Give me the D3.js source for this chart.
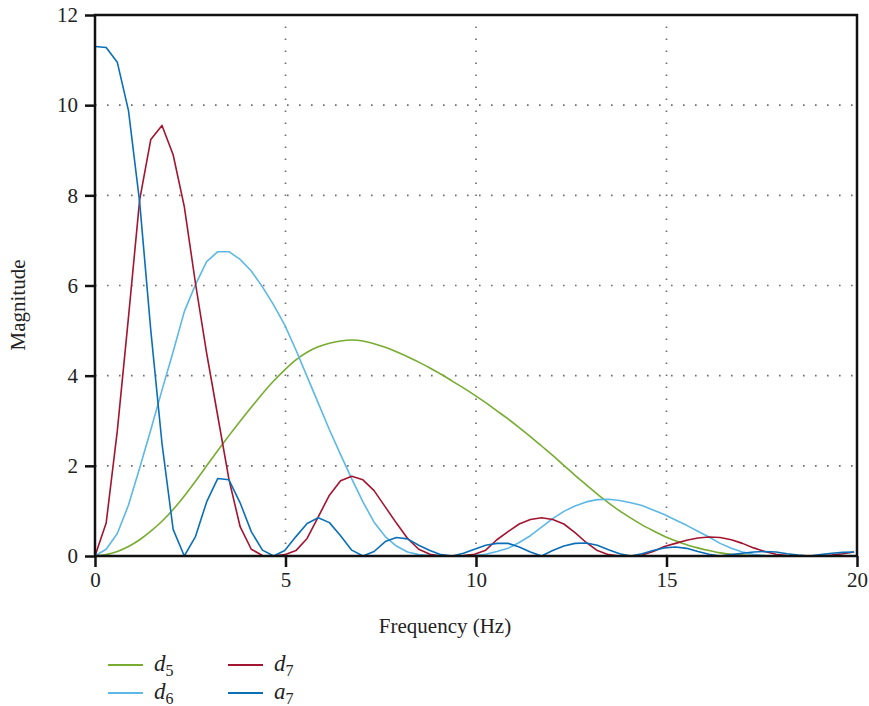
<!DOCTYPE html>
<html>
<head>
<meta charset="utf-8">
<script src="https://cdn.jsdelivr.net/npm/d3@7"></script>
<style>
  html, body { margin: 0; padding: 0; background: #fff; }
  svg { display: block; }
  text { font-family: "Liberation Serif", "DejaVu Serif", serif; fill: #222; }
</style>
</head>
<body>
<svg id="chart" width="869" height="706"></svg>
<script>
// Frequency grid (Hz): uniform bins of 0.293 Hz
const binWidth = 0.293;

// Spectral magnitude of each wavelet sub-band, one value per frequency bin
const d5 = [0, 0.03, 0.1, 0.21, 0.36, 0.55, 0.77, 1.03, 1.33, 1.66,
  2.0, 2.34, 2.67, 2.99, 3.3, 3.6, 3.88, 4.13, 4.35, 4.52,
  4.64, 4.72, 4.77, 4.79, 4.77, 4.71, 4.63, 4.53, 4.42, 4.3,
  4.17, 4.03, 3.88, 3.73, 3.57, 3.4, 3.22, 3.04, 2.85, 2.65,
  2.44, 2.23, 2.01, 1.79, 1.58, 1.37, 1.18, 1.0, 0.84, 0.69,
  0.56, 0.44, 0.34, 0.25, 0.18, 0.12, 0.07, 0.04, 0.02, 0.01,
  0, 0, 0, 0, 0, 0, 0, 0, 0];

const d6 = [0, 0.15, 0.5, 1.13, 1.95, 2.8, 3.68, 4.53, 5.42, 6.02,
  6.53, 6.75, 6.75, 6.58, 6.32, 5.97, 5.57, 5.12, 4.57, 3.98,
  3.39, 2.8, 2.25, 1.71, 1.2, 0.75, 0.43, 0.22, 0.09, 0.03,
  0.01, 0, 0, 0, 0.01, 0.04, 0.1, 0.17, 0.3, 0.45,
  0.64, 0.83, 0.99, 1.11, 1.2, 1.25, 1.26, 1.23, 1.18, 1.12,
  1.02, 0.92, 0.8, 0.68, 0.55, 0.42, 0.28, 0.17, 0.09, 0.04,
  0.01, 0, 0, 0, 0, 0, 0, 0, 0];

const d7 = [0, 0.73, 2.78, 5.3, 7.9, 9.24, 9.55, 8.9, 7.75, 6.05,
  4.5, 3.1, 1.7, 0.65, 0.15, 0.01, 0, 0.03, 0.12, 0.39,
  0.87, 1.35, 1.67, 1.77, 1.69, 1.45, 1.09, 0.73, 0.39, 0.15,
  0.04, 0, 0, 0.01, 0.04, 0.13, 0.36, 0.54, 0.71, 0.81,
  0.85, 0.81, 0.71, 0.52, 0.3, 0.12, 0.03, 0, 0, 0.02,
  0.1, 0.21, 0.28, 0.35, 0.4, 0.42, 0.41, 0.36, 0.28, 0.18,
  0.1, 0.04, 0.01, 0, 0, 0, 0.02, 0.05, 0.09];

const a7 = [11.3, 11.28, 10.95, 9.88, 7.85, 5.0, 2.5, 0.59, 0, 0.43,
  1.2, 1.72, 1.69, 1.18, 0.54, 0.13, 0, 0.12, 0.43, 0.72,
  0.85, 0.74, 0.45, 0.13, 0, 0.1, 0.32, 0.41, 0.38, 0.24,
  0.12, 0.03, 0, 0.06, 0.15, 0.24, 0.28, 0.28, 0.2, 0.09,
  0, 0.12, 0.22, 0.28, 0.29, 0.24, 0.14, 0.05, 0, 0.05,
  0.12, 0.18, 0.2, 0.17, 0.1, 0.04, 0, 0.03, 0.06, 0.09,
  0.1, 0.09, 0.05, 0.02, 0, 0.03, 0.06, 0.08, 0.09];

const seriesNames = ["d5", "d6", "d7", "a7"];
const seriesColors = ["#77ac30", "#5cb8e6", "#a2142f", "#0b6fb8"];
const seriesValues = [d5, d6, d7, a7];

const xTicks = [0, 5, 10, 15, 20];
const yTicks = [0, 2, 4, 6, 8, 10, 12];
const xGrid = [5, 10, 15];
const yGrid = [2, 4, 6, 8, 10];

const svg = d3.select("#chart");
const plotLeft = 95, plotRight = 857, plotTop = 15, plotBottom = 556;

const x = d3.scaleLinear().domain([0, 20]).range([plotLeft, plotRight]);
const y = d3.scaleLinear().domain([0, 12]).range([plotBottom, plotTop]);

// dotted grid
const grid = svg.append("g")
  .attr("stroke", "#6a6a6a")
  .attr("stroke-width", 1.6)
  .attr("stroke-dasharray", "1.6,10.4");
grid.selectAll("line.gx").data(xGrid).enter().append("line")
  .attr("class", "gx")
  .attr("x1", d => x(d)).attr("x2", d => x(d))
  .attr("y1", plotBottom).attr("y2", plotTop);
grid.selectAll("line.gy").data(yGrid).enter().append("line")
  .attr("class", "gy")
  .attr("x1", plotLeft).attr("x2", plotRight)
  .attr("y1", d => y(d)).attr("y2", d => y(d));

// curves, clipped to the plot box
svg.append("clipPath").attr("id", "plotclip")
  .append("rect").attr("x", plotLeft).attr("y", plotTop)
  .attr("width", plotRight - plotLeft).attr("height", plotBottom - plotTop);

// d5 is drawn as a smooth curve, the narrower bands bin-to-bin
const curveTypes = [d3.curveMonotoneX, d3.curveLinear, d3.curveLinear, d3.curveLinear];

const curves = svg.append("g").attr("clip-path", "url(#plotclip)");
seriesValues.forEach((vals, k) => {
  const line = d3.line()
    .x((d, i) => x(i * binWidth))
    .y(d => y(d))
    .curve(curveTypes[k]);
  curves.append("path")
    .datum(vals)
    .attr("fill", "none")
    .attr("stroke", seriesColors[k])
    .attr("stroke-width", 1.6)
    .attr("stroke-linejoin", "round")
    .attr("d", line);
});

// frame
svg.append("rect")
  .attr("x", plotLeft).attr("y", plotTop)
  .attr("width", plotRight - plotLeft).attr("height", plotBottom - plotTop)
  .attr("fill", "none").attr("stroke", "#111").attr("stroke-width", 2.5);

// axes
const xAxis = svg.append("g")
  .attr("transform", `translate(0,${plotBottom})`)
  .call(d3.axisBottom(x).tickValues(xTicks).tickSize(11).tickPadding(5));
const yAxis = svg.append("g")
  .attr("transform", `translate(${plotLeft},0)`)
  .call(d3.axisLeft(y).tickValues(yTicks).tickSize(10).tickPadding(7));
[xAxis, yAxis].forEach(g => {
  g.select(".domain").remove();
  g.selectAll(".tick line").attr("stroke", "#111").attr("stroke-width", 2.5);
  g.selectAll(".tick text")
    .attr("fill", "#222")
    .style("font-family", '"Liberation Serif", "DejaVu Serif", serif')
    .style("font-size", "21px");
});

// axis titles
svg.append("text")
  .attr("x", 445).attr("y", 633)
  .attr("text-anchor", "middle")
  .style("font-size", "21px")
  .text("Frequency (Hz)");
svg.append("text")
  .attr("transform", `translate(25,305) rotate(-90)`)
  .attr("text-anchor", "middle")
  .style("font-size", "21px")
  .text("Magnitude");

// legend: two columns, two rows
const legendItems = [
  { name: "d", sub: "5", color: seriesColors[0], col: 0, row: 0 },
  { name: "d", sub: "6", color: seriesColors[1], col: 0, row: 1 },
  { name: "d", sub: "7", color: seriesColors[2], col: 1, row: 0 },
  { name: "a", sub: "7", color: seriesColors[3], col: 1, row: 1 }
];
const legend = svg.append("g");
legendItems.forEach(it => {
  const lx = 108 + it.col * 120;
  const ly = 665 + it.row * 28;
  legend.append("line")
    .attr("x1", lx).attr("x2", lx + 35)
    .attr("y1", ly).attr("y2", ly)
    .attr("stroke", it.color).attr("stroke-width", 2);
  const t = legend.append("text")
    .attr("x", lx + 46).attr("y", ly + 6)
    .style("font-size", "23px");
  t.append("tspan").style("font-style", "italic").text(it.name);
  t.append("tspan").attr("dy", 5).style("font-size", "16px").text(it.sub);
});
</script>
</body>
</html>
